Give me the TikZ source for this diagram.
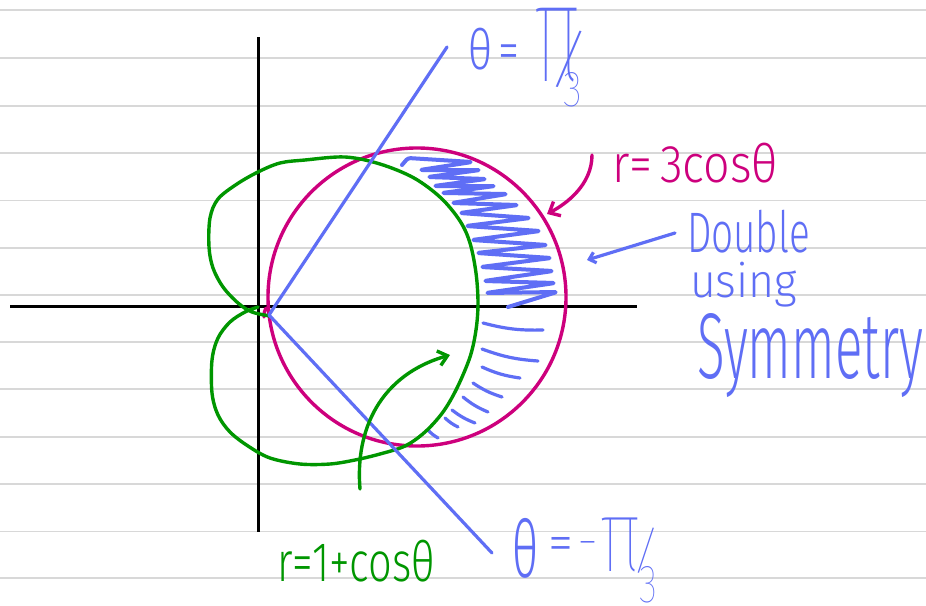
\documentclass[tikz,border=0pt]{standalone}
\usepackage{fontspec}
\setmainfont{Fira Sans}
\IfFontExistsTF{Fira Sans Light}{\newfontfamily\hwfont{Fira Sans Light}}{\newfontfamily\hwfont{Fira Sans}}
\IfFontExistsTF{Fira Sans Thin}{\newfontfamily\hwthin{Fira Sans Thin}}{\let\hwthin\hwfont}
\usetikzlibrary{arrows.meta}
\definecolor{rulegray}{RGB}{216,216,216}
\definecolor{pblue}{RGB}{95,110,245}
\definecolor{pgreen}{RGB}{0,150,0}
\definecolor{pmag}{RGB}{205,0,125}
\newcommand{\hw}[3]{\resizebox*{#1pt}{#2pt}{\hwfont #3}}
\newcommand{\hwt}[3]{\resizebox*{#1pt}{#2pt}{\hwthin #3}}
% pi over 3, as one line of text
\newcommand{\pifracA}{\hbox{\rlap{\scalebox{1.8}[2.8]{π}}\kern0.2em\rlap{\scalebox{2.2}[1.25]{/}}\kern0.45em\raisebox{-0.5em}{\scalebox{0.85}[1]{3}}}}
\newcommand{\pifracB}{\hbox{\rlap{\scalebox{1.6}[2.24]{π}}\kern0.67em\rlap{\raisebox{0.07em}{\scalebox{1.4}[1.1]{/}}}\kern0.2em\raisebox{-0.67em}{\scalebox{0.82}[1.16]{3}}}}
\begin{document}
\begin{tikzpicture}[x=1pt,y=-1pt,line cap=round,line join=round,
  ruled/.style={rulegray,line width=1.6pt,line cap=butt},
  axisline/.style={black,line width=3.6pt,line cap=butt},
  gcurve/.style={pgreen,line width=3.4pt},
  mcurve/.style={pmag,line width=3.4pt},
  bline/.style={pblue,line width=3.2pt},
  hatch/.style={pblue,line width=4pt,rounded corners=2.5pt},
  lbl/.style={anchor=north west,inner sep=0pt,outer sep=0pt}]
\useasboundingbox (0,0) rectangle (926,605);
\fill[white] (0,0) rectangle (926,605);
% ruled paper
\foreach \yy in {10,58,106,153,200.5,248,295,342,389,437,484,531.5,578}
  \draw[ruled] (0,\yy) -- (926,\yy);
% axes
\coordinate (xl) at (10,306.5);
\coordinate (xr) at (637,306.5);
\coordinate (yt) at (258.5,37);
\coordinate (yb) at (258.5,532);
\draw[axisline] (xl) -- (xr);
\draw[axisline] (yt) -- (yb);
% pole and rays
\coordinate (O) at (269,315);
\coordinate (A1) at (447,47);
\coordinate (A2) at (492,553);
% hatching (upper zigzag)
\draw[hatch] (402,165) -- (408,158) -- (472,162) -- (420,170) -- (480,170) -- (428,177) -- (486,179)
  -- (434,186) -- (495,186) -- (442,193) -- (507,194) -- (452,203) -- (518,205) -- (460,213)
  -- (530,218) -- (466,226) -- (540,231) -- (472,240) -- (547,245) -- (477,253) -- (551,258)
  -- (481,267) -- (553,271) -- (484,281) -- (555,283) -- (486,293) -- (557,292) -- (508,307);
% hatching (lower strokes)
\foreach \ax/\ay/\bx/\by in {483/323/543/330, 482/349/538/361, 482/367/520/378,
  473/383/502/397, 463/397/488/412, 452/410/475/423, 445/418/458/427, 428/430/438/438}
  \draw[bline] (\ax,\ay) to[bend right=8] (\bx,\by);
% circle r = 3 cos theta
\draw[mcurve] (417,297) circle[radius=149];
\draw[mcurve] (264,317) .. controls (264,309) and (267,304) .. (269,312);
% cardioid r = 1 + cos theta
\draw[gcurve] plot[smooth,tension=0.55] coordinates {
  (258,307) (245,312) (230,322) (218,338) (212,360) (212,393) (218,415) (230,432)
  (248,446) (270,458) (300,464) (330,464) (355,460) (380,454) (405,446) (425,432)
  (443,412) (457,388) (470,357) (476,330) (478,303) (476,273) (470,243) (460,221)
  (441,198) (414,178) (380,164) (345,157) (305,160) (280,163) (258,172) (237,184)
  (218,199) (210,218) (209,247) (213,268) (223,287) (238,303) (252,312) (270,316)};
% rays
\draw[bline] (O) -- (A1);
\draw[bline] (O) -- (A2);
% green arrow
\coordinate (ga0) at (360,489);
\coordinate (ga1) at (450,355);
\draw[gcurve,-{Straight Barb[length=9pt,width=15pt]}] (ga0) .. controls (355,430) and (380,375) .. (ga1);
% magenta arrow
\coordinate (ma0) at (592,155);
\coordinate (ma1) at (547,214);
\draw[mcurve,-{Straight Barb[length=9pt,width=16pt]}] (ma0) .. controls (592,185) and (566,204) .. (ma1);
% blue arrow
\coordinate (ba0) at (675,233);
\coordinate (ba1) at (587,260);
\draw[bline,-{Straight Barb[length=6pt,width=11pt]}] (ba0) -- (ba1);
% labels
\node[lbl,text=pblue] (t1a) at (468,28) {\hw{52}{42}{θ\,=}};
\node[lbl,text=pblue] (t1b) at (533,8) {\hwt{49}{99}{\pifracA}};
\node[lbl,text=pblue] (t2a) at (512,518) {\hw{26}{60}{θ}};
\node[lbl,text=pblue] (t2b) at (548,537) {\hw{25}{23}{=}};
\node[lbl,text=pblue] (t2c) at (578,541) {\hw{19}{11}{−}};
\node[lbl,text=pblue] (t2d) at (599,518) {\hwt{58}{85}{\pifracB}};
\node[lbl,text=pgreen] (t3) at (277,540) {\hw{158}{42}{r=1+cosθ}};
\node[lbl,text=pmag] (t4) at (612,143) {\hw{166}{40}{r=\,3cosθ}};
\node[lbl,text=pblue] (t5) at (687,210) {\hw{123}{43}{Double}};
\node[lbl,text=pblue] (t6) at (690,262) {\hw{107}{45}{using}};
\node[lbl,text=pblue] (t7) at (697,313) {\hw{226}{84}{Symmetry}};
\end{tikzpicture}
\end{document}
